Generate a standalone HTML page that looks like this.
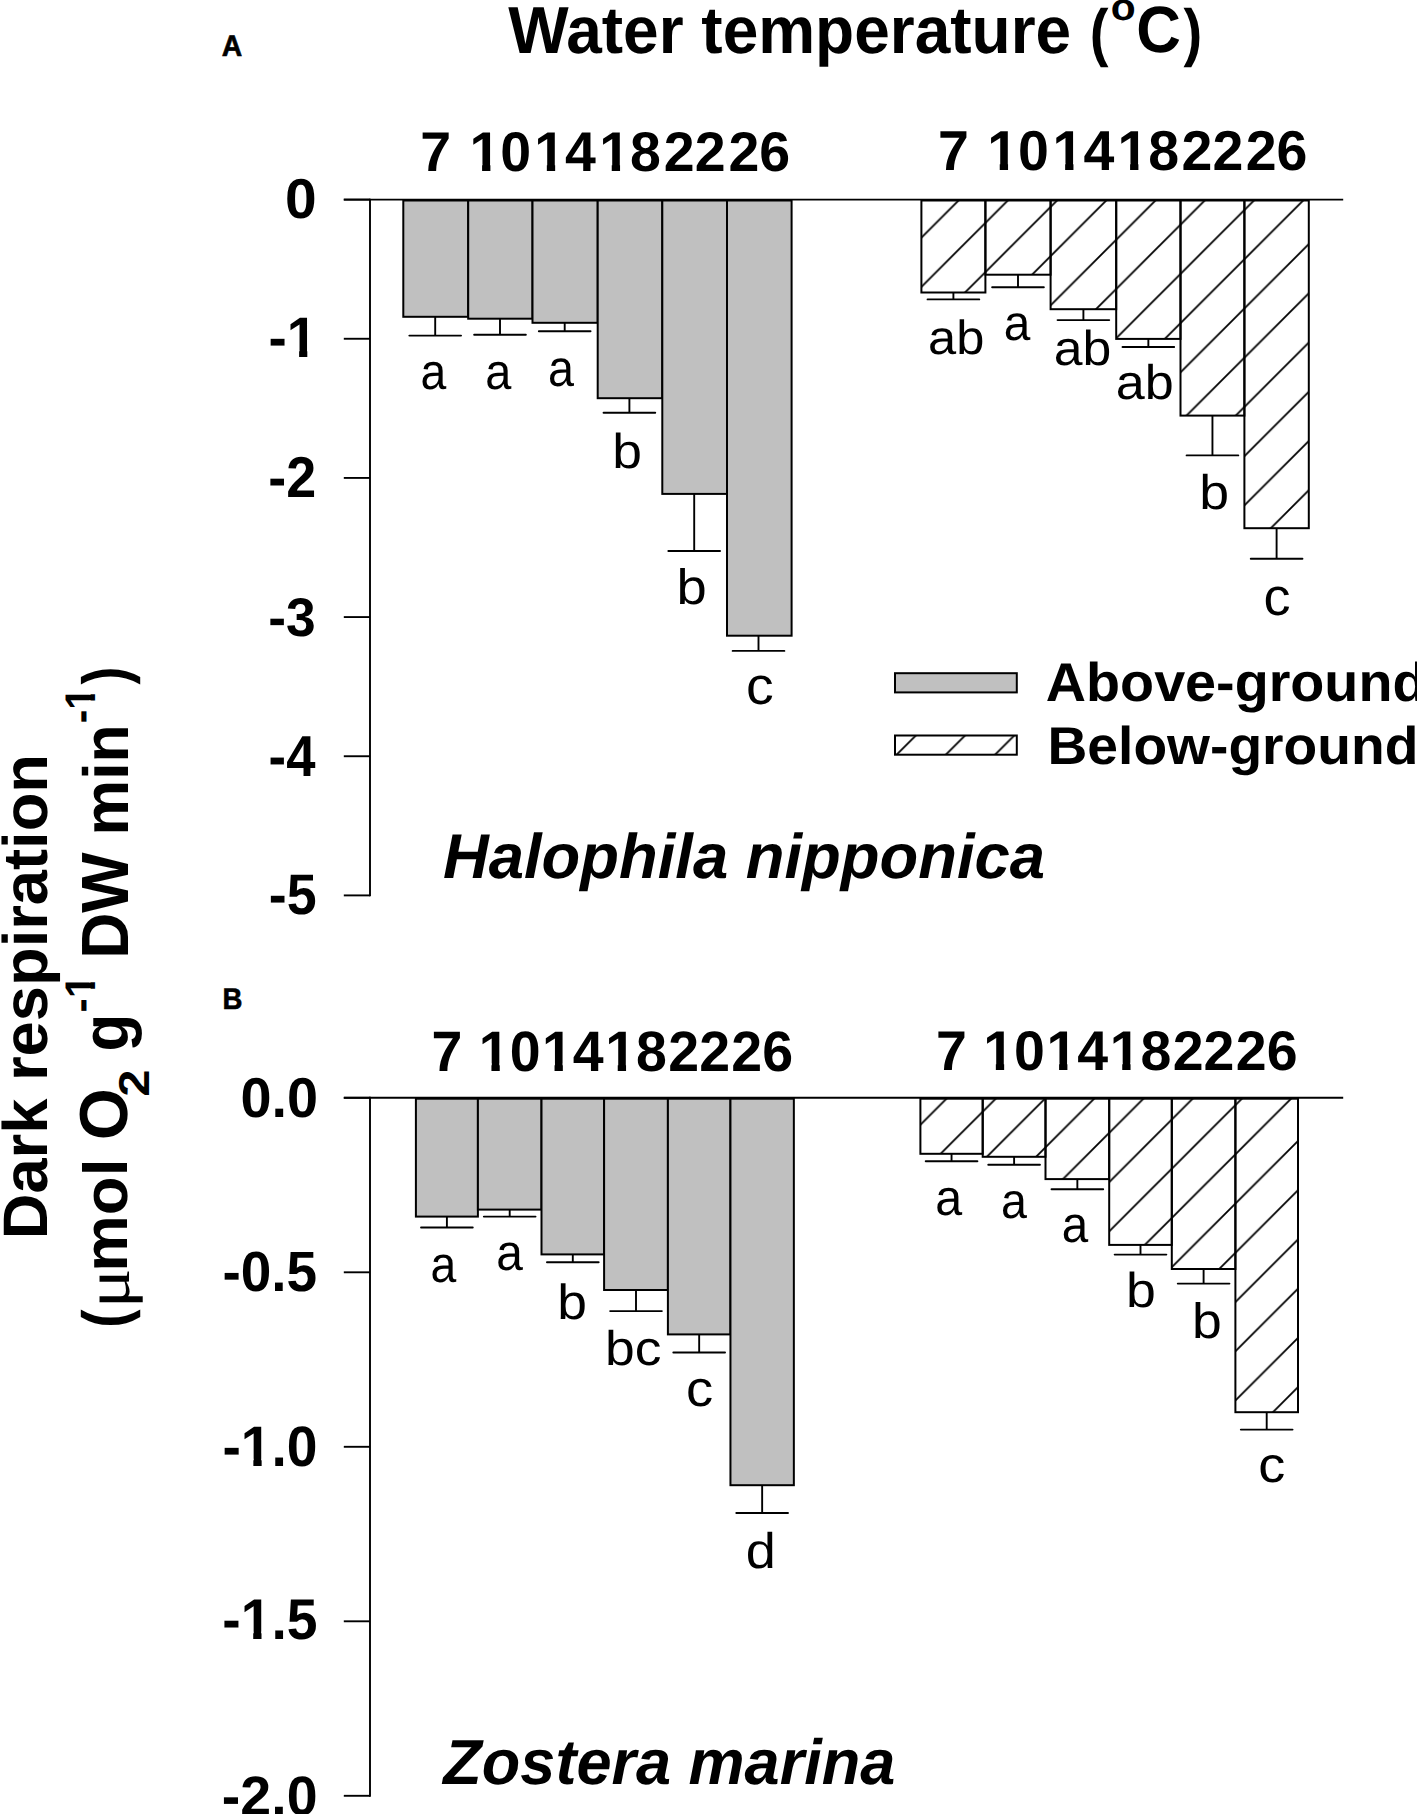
<!DOCTYPE html><html><head><meta charset="utf-8"><style>html,body{margin:0;padding:0;background:#fff;}svg{display:block;}</style></head><body><svg width="1417" height="1814" viewBox="0 0 1417 1814">
<defs>
<pattern id="hat" patternUnits="userSpaceOnUse" x="26.816" y="0" width="49.228" height="49.228"><path d="M-2,51.228 L51.228,-2 M-2,2 L2,-2 M47.228,51.228 L51.228,47.228" stroke="#000" stroke-width="1.8" fill="none"/></pattern>
</defs>
<rect width="1417" height="1814" fill="#fff"/>
<line x1="435.20" y1="316.80" x2="435.20" y2="335.60" stroke="#000" stroke-width="1.9"/>
<line x1="409.35" y1="335.60" x2="461.05" y2="335.60" stroke="#000" stroke-width="1.9" stroke-linecap="round"/>
<rect x="403.30" y="200.50" width="64.90" height="116.30" fill="#c0c0c0" stroke="#000" stroke-width="2.0"/>
<line x1="500.00" y1="318.70" x2="500.00" y2="334.70" stroke="#000" stroke-width="1.9"/>
<line x1="474.15" y1="334.70" x2="525.85" y2="334.70" stroke="#000" stroke-width="1.9" stroke-linecap="round"/>
<rect x="468.20" y="200.50" width="64.30" height="118.20" fill="#c0c0c0" stroke="#000" stroke-width="2.0"/>
<line x1="564.70" y1="322.80" x2="564.70" y2="331.30" stroke="#000" stroke-width="1.9"/>
<line x1="538.85" y1="331.30" x2="590.55" y2="331.30" stroke="#000" stroke-width="1.9" stroke-linecap="round"/>
<rect x="532.50" y="200.50" width="65.20" height="122.30" fill="#c0c0c0" stroke="#000" stroke-width="2.0"/>
<line x1="629.40" y1="398.20" x2="629.40" y2="412.80" stroke="#000" stroke-width="1.9"/>
<line x1="603.55" y1="412.80" x2="655.25" y2="412.80" stroke="#000" stroke-width="1.9" stroke-linecap="round"/>
<rect x="597.70" y="200.50" width="64.60" height="197.70" fill="#c0c0c0" stroke="#000" stroke-width="2.0"/>
<line x1="694.20" y1="493.90" x2="694.20" y2="551.00" stroke="#000" stroke-width="1.9"/>
<line x1="668.35" y1="551.00" x2="720.05" y2="551.00" stroke="#000" stroke-width="1.9" stroke-linecap="round"/>
<rect x="662.30" y="200.50" width="64.70" height="293.40" fill="#c0c0c0" stroke="#000" stroke-width="2.0"/>
<line x1="758.50" y1="635.70" x2="758.50" y2="650.90" stroke="#000" stroke-width="1.9"/>
<line x1="732.65" y1="650.90" x2="784.35" y2="650.90" stroke="#000" stroke-width="1.9" stroke-linecap="round"/>
<rect x="727.00" y="200.50" width="64.60" height="435.20" fill="#c0c0c0" stroke="#000" stroke-width="2.0"/>
<line x1="953.40" y1="292.50" x2="953.40" y2="299.40" stroke="#000" stroke-width="1.9"/>
<line x1="927.55" y1="299.40" x2="979.25" y2="299.40" stroke="#000" stroke-width="1.9" stroke-linecap="round"/>
<rect x="921.40" y="200.50" width="64.00" height="92.00" fill="url(#hat)" stroke="#000" stroke-width="2.0"/>
<line x1="1018.00" y1="274.70" x2="1018.00" y2="287.30" stroke="#000" stroke-width="1.9"/>
<line x1="992.15" y1="287.30" x2="1043.85" y2="287.30" stroke="#000" stroke-width="1.9" stroke-linecap="round"/>
<rect x="985.40" y="200.50" width="65.20" height="74.20" fill="url(#hat)" stroke="#000" stroke-width="2.0"/>
<line x1="1083.40" y1="309.20" x2="1083.40" y2="320.10" stroke="#000" stroke-width="1.9"/>
<line x1="1057.55" y1="320.10" x2="1109.25" y2="320.10" stroke="#000" stroke-width="1.9" stroke-linecap="round"/>
<rect x="1050.60" y="200.50" width="65.60" height="108.70" fill="url(#hat)" stroke="#000" stroke-width="2.0"/>
<line x1="1148.35" y1="338.90" x2="1148.35" y2="347.00" stroke="#000" stroke-width="1.9"/>
<line x1="1122.50" y1="347.00" x2="1174.20" y2="347.00" stroke="#000" stroke-width="1.9" stroke-linecap="round"/>
<rect x="1116.20" y="200.50" width="64.30" height="138.40" fill="url(#hat)" stroke="#000" stroke-width="2.0"/>
<line x1="1212.45" y1="415.60" x2="1212.45" y2="455.40" stroke="#000" stroke-width="1.9"/>
<line x1="1186.60" y1="455.40" x2="1238.30" y2="455.40" stroke="#000" stroke-width="1.9" stroke-linecap="round"/>
<rect x="1180.50" y="200.50" width="63.90" height="215.10" fill="url(#hat)" stroke="#000" stroke-width="2.0"/>
<line x1="1276.60" y1="528.20" x2="1276.60" y2="558.80" stroke="#000" stroke-width="1.9"/>
<line x1="1250.75" y1="558.80" x2="1302.45" y2="558.80" stroke="#000" stroke-width="1.9" stroke-linecap="round"/>
<rect x="1244.40" y="200.50" width="64.40" height="327.70" fill="url(#hat)" stroke="#000" stroke-width="2.0"/>
<line x1="370.0" y1="199.60" x2="370.0" y2="895.40" stroke="#000" stroke-width="1.9" stroke-linecap="square"/>
<line x1="343.8" y1="199.60" x2="1343.2" y2="199.60" stroke="#000" stroke-width="1.9"/>
<line x1="343.8" y1="199.60" x2="370.0" y2="199.60" stroke="#000" stroke-width="1.9"/>
<line x1="343.8" y1="338.76" x2="370.0" y2="338.76" stroke="#000" stroke-width="1.9"/>
<line x1="343.8" y1="477.92" x2="370.0" y2="477.92" stroke="#000" stroke-width="1.9"/>
<line x1="343.8" y1="617.08" x2="370.0" y2="617.08" stroke="#000" stroke-width="1.9"/>
<line x1="343.8" y1="756.24" x2="370.0" y2="756.24" stroke="#000" stroke-width="1.9"/>
<line x1="343.8" y1="895.40" x2="370.0" y2="895.40" stroke="#000" stroke-width="1.9"/>
<line x1="446.90" y1="1216.60" x2="446.90" y2="1227.50" stroke="#000" stroke-width="1.9"/>
<line x1="421.05" y1="1227.50" x2="472.75" y2="1227.50" stroke="#000" stroke-width="1.9" stroke-linecap="round"/>
<rect x="415.90" y="1098.70" width="62.00" height="117.90" fill="#c0c0c0" stroke="#000" stroke-width="2.0"/>
<line x1="509.70" y1="1209.60" x2="509.70" y2="1216.60" stroke="#000" stroke-width="1.9"/>
<line x1="483.85" y1="1216.60" x2="535.55" y2="1216.60" stroke="#000" stroke-width="1.9" stroke-linecap="round"/>
<rect x="477.90" y="1098.70" width="63.60" height="110.90" fill="#c0c0c0" stroke="#000" stroke-width="2.0"/>
<line x1="572.80" y1="1254.40" x2="572.80" y2="1262.30" stroke="#000" stroke-width="1.9"/>
<line x1="546.95" y1="1262.30" x2="598.65" y2="1262.30" stroke="#000" stroke-width="1.9" stroke-linecap="round"/>
<rect x="541.50" y="1098.70" width="62.60" height="155.70" fill="#c0c0c0" stroke="#000" stroke-width="2.0"/>
<line x1="636.00" y1="1290.00" x2="636.00" y2="1311.10" stroke="#000" stroke-width="1.9"/>
<line x1="610.15" y1="1311.10" x2="661.85" y2="1311.10" stroke="#000" stroke-width="1.9" stroke-linecap="round"/>
<rect x="604.10" y="1098.70" width="63.80" height="191.30" fill="#c0c0c0" stroke="#000" stroke-width="2.0"/>
<line x1="699.17" y1="1334.40" x2="699.17" y2="1352.50" stroke="#000" stroke-width="1.9"/>
<line x1="673.32" y1="1352.50" x2="725.02" y2="1352.50" stroke="#000" stroke-width="1.9" stroke-linecap="round"/>
<rect x="667.90" y="1098.70" width="62.55" height="235.70" fill="#c0c0c0" stroke="#000" stroke-width="2.0"/>
<line x1="762.15" y1="1485.20" x2="762.15" y2="1513.00" stroke="#000" stroke-width="1.9"/>
<line x1="736.30" y1="1513.00" x2="788.00" y2="1513.00" stroke="#000" stroke-width="1.9" stroke-linecap="round"/>
<rect x="730.45" y="1098.70" width="63.40" height="386.50" fill="#c0c0c0" stroke="#000" stroke-width="2.0"/>
<line x1="951.55" y1="1153.80" x2="951.55" y2="1161.30" stroke="#000" stroke-width="1.9"/>
<line x1="925.70" y1="1161.30" x2="977.40" y2="1161.30" stroke="#000" stroke-width="1.9" stroke-linecap="round"/>
<rect x="920.40" y="1098.70" width="62.30" height="55.10" fill="url(#hat)" stroke="#000" stroke-width="2.0"/>
<line x1="1014.10" y1="1156.80" x2="1014.10" y2="1164.80" stroke="#000" stroke-width="1.9"/>
<line x1="988.25" y1="1164.80" x2="1039.95" y2="1164.80" stroke="#000" stroke-width="1.9" stroke-linecap="round"/>
<rect x="982.70" y="1098.70" width="62.80" height="58.10" fill="url(#hat)" stroke="#000" stroke-width="2.0"/>
<line x1="1077.35" y1="1179.10" x2="1077.35" y2="1189.30" stroke="#000" stroke-width="1.9"/>
<line x1="1051.50" y1="1189.30" x2="1103.20" y2="1189.30" stroke="#000" stroke-width="1.9" stroke-linecap="round"/>
<rect x="1045.50" y="1098.70" width="63.70" height="80.40" fill="url(#hat)" stroke="#000" stroke-width="2.0"/>
<line x1="1140.50" y1="1244.90" x2="1140.50" y2="1254.60" stroke="#000" stroke-width="1.9"/>
<line x1="1114.65" y1="1254.60" x2="1166.35" y2="1254.60" stroke="#000" stroke-width="1.9" stroke-linecap="round"/>
<rect x="1109.20" y="1098.70" width="62.60" height="146.20" fill="url(#hat)" stroke="#000" stroke-width="2.0"/>
<line x1="1203.60" y1="1269.00" x2="1203.60" y2="1283.60" stroke="#000" stroke-width="1.9"/>
<line x1="1177.75" y1="1283.60" x2="1229.45" y2="1283.60" stroke="#000" stroke-width="1.9" stroke-linecap="round"/>
<rect x="1171.80" y="1098.70" width="63.60" height="170.30" fill="url(#hat)" stroke="#000" stroke-width="2.0"/>
<line x1="1266.70" y1="1412.20" x2="1266.70" y2="1429.60" stroke="#000" stroke-width="1.9"/>
<line x1="1240.85" y1="1429.60" x2="1292.55" y2="1429.60" stroke="#000" stroke-width="1.9" stroke-linecap="round"/>
<rect x="1235.40" y="1098.70" width="62.60" height="313.50" fill="url(#hat)" stroke="#000" stroke-width="2.0"/>
<line x1="370.0" y1="1097.80" x2="370.0" y2="1795.80" stroke="#000" stroke-width="1.9" stroke-linecap="square"/>
<line x1="343.8" y1="1097.80" x2="1343.2" y2="1097.80" stroke="#000" stroke-width="1.9"/>
<line x1="343.8" y1="1097.80" x2="370.0" y2="1097.80" stroke="#000" stroke-width="1.9"/>
<line x1="343.8" y1="1272.30" x2="370.0" y2="1272.30" stroke="#000" stroke-width="1.9"/>
<line x1="343.8" y1="1446.80" x2="370.0" y2="1446.80" stroke="#000" stroke-width="1.9"/>
<line x1="343.8" y1="1621.30" x2="370.0" y2="1621.30" stroke="#000" stroke-width="1.9"/>
<line x1="343.8" y1="1795.80" x2="370.0" y2="1795.80" stroke="#000" stroke-width="1.9"/>
<rect x="895" y="673.2" width="121.8" height="19.2" fill="#c0c0c0" stroke="#000" stroke-width="2.0"/>
<rect x="895" y="735.5" width="121.8" height="19.2" fill="url(#hat)" stroke="#000" stroke-width="2.0"/>
<g font-family="'Liberation Sans', sans-serif" fill="#000" text-rendering="geometricPrecision">
<g transform="matrix(1.02569,0,0,1.01211,-8.934,-3.145)"><text x="317.50" y="218.60" text-anchor="end" font-weight="bold" font-size="55.5">0</text></g>
<g transform="matrix(0.98608,0,0,1.02873,4.036,-10.782)"><text x="317.50" y="357.76" text-anchor="end" font-weight="bold" font-size="55.5" clip-path="url(#c1_1)">-1</text></g>
<g transform="matrix(0.97118,0,0,1.03572,7.766,-17.551)"><text x="317.50" y="496.92" text-anchor="end" font-weight="bold" font-size="55.5">-2</text></g>
<g transform="matrix(0.96221,0,0,0.97811,10.250,13.663)"><text x="317.50" y="636.08" text-anchor="end" font-weight="bold" font-size="55.5">-3</text></g>
<g transform="matrix(0.94808,0,0,1.04188,14.405,-31.867)"><text x="317.50" y="775.24" text-anchor="end" font-weight="bold" font-size="55.5">-4</text></g>
<g transform="matrix(0.96908,0,0,1.02965,8.932,-27.465)"><text x="317.50" y="914.40" text-anchor="end" font-weight="bold" font-size="55.5">-5</text></g>
<g transform="matrix(0.91697,0,0,1.00220,34.921,-1.029)"><text x="434.65" y="388.90" text-anchor="middle" font-size="50.5">a</text></g>
<g transform="matrix(0.92881,0,0,1.00277,34.291,-1.254)"><text x="499.70" y="388.90" text-anchor="middle" font-size="50.5">a</text></g>
<g transform="matrix(0.92550,0,0,1.01817,40.679,-6.501)"><text x="562.15" y="385.80" text-anchor="middle" font-size="50.5">a</text></g>
<g transform="matrix(1.05723,0,0,0.96861,-36.636,14.687)"><text x="627.75" y="468.30" text-anchor="middle" font-size="50.5">b</text></g>
<g transform="matrix(1.07705,0,0,0.98300,-54.053,9.906)"><text x="692.40" y="604.50" text-anchor="middle" font-size="50.5">b</text></g>
<g transform="matrix(1.09830,0,0,1.05228,-75.022,-36.326)"><text x="760.25" y="703.80" text-anchor="middle" font-size="50.5">c</text></g>
<g transform="matrix(1.00177,0,0,0.95135,-1.731,16.869)"><text x="956.20" y="354.50" text-anchor="middle" font-size="50.5">ab</text></g>
<g transform="matrix(0.94628,0,0,0.98528,53.622,4.617)"><text x="1018.05" y="340.50" text-anchor="middle" font-size="50.5">a</text></g>
<g transform="matrix(1.02481,0,0,0.96872,-27.161,11.813)"><text x="1082.75" y="365.10" text-anchor="middle" font-size="50.5">ab</text></g>
<g transform="matrix(1.03259,0,0,0.96393,-37.232,14.516)"><text x="1144.65" y="399.00" text-anchor="middle" font-size="50.5">ab</text></g>
<g transform="matrix(1.06247,0,0,0.96660,-76.304,16.912)"><text x="1214.55" y="508.60" text-anchor="middle" font-size="50.5">b</text></g>
<g transform="matrix(1.07197,0,0,1.05040,-92.170,-30.617)"><text x="1277.35" y="615.10" text-anchor="middle" font-size="50.5">c</text></g>
<g transform="matrix(1.00614,0,0,1.01131,-1.344,-12.056)"><text x="317.50" y="1116.80" text-anchor="end" font-weight="bold" font-size="55.5">0.0</text></g>
<g transform="matrix(0.99023,0,0,1.02172,2.745,-28.704)"><text x="317.50" y="1291.30" text-anchor="end" font-weight="bold" font-size="55.5">-0.5</text></g>
<g transform="matrix(0.99499,0,0,1.02675,1.679,-38.713)"><text x="317.50" y="1465.80" text-anchor="end" font-weight="bold" font-size="55.5" clip-path="url(#c1_2)">-1.0</text></g>
<g transform="matrix(0.99587,0,0,1.03445,1.315,-57.847)"><text x="317.50" y="1640.30" text-anchor="end" font-weight="bold" font-size="55.5" clip-path="url(#c1_3)">-1.5</text></g>
<text x="317.50" y="1814.80" text-anchor="end" font-weight="bold" font-size="55.5">-2.0</text>
<g transform="matrix(0.91653,0,0,1.01500,35.956,-18.796)"><text x="444.65" y="1281.10" text-anchor="middle" font-size="50.5">a</text></g>
<g transform="matrix(0.94832,0,0,1.01515,25.496,-19.531)"><text x="510.40" y="1270.20" text-anchor="middle" font-size="50.5">a</text></g>
<g transform="matrix(1.05755,0,0,0.97745,-33.664,30.044)"><text x="572.85" y="1318.40" text-anchor="middle" font-size="50.5">b</text></g>
<g transform="matrix(1.05836,0,0,0.96473,-38.020,48.254)"><text x="634.25" y="1365.00" text-anchor="middle" font-size="50.5">bc</text></g>
<g transform="matrix(1.07758,0,0,1.00589,-54.738,-7.883)"><text x="700.00" y="1406.10" text-anchor="middle" font-size="50.5">c</text></g>
<g transform="matrix(1.07171,0,0,0.98951,-53.852,16.211)"><text x="760.25" y="1567.90" text-anchor="middle" font-size="50.5">d</text></g>
<g transform="matrix(0.95772,0,0,1.00716,39.053,-8.658)"><text x="949.70" y="1215.30" text-anchor="middle" font-size="50.5">a</text></g>
<g transform="matrix(0.92309,0,0,0.99724,77.145,3.497)"><text x="1014.75" y="1218.00" text-anchor="middle" font-size="50.5">a</text></g>
<g transform="matrix(0.94151,0,0,1.01543,61.807,-19.572)"><text x="1076.20" y="1242.50" text-anchor="middle" font-size="50.5">a</text></g>
<g transform="matrix(1.06219,0,0,0.96872,-71.767,41.279)"><text x="1141.75" y="1307.10" text-anchor="middle" font-size="50.5">b</text></g>
<g transform="matrix(1.06028,0,0,0.98268,-73.344,22.880)"><text x="1207.50" y="1338.20" text-anchor="middle" font-size="50.5">b</text></g>
<g transform="matrix(1.06996,0,0,0.99681,-89.340,4.639)"><text x="1272.05" y="1481.60" text-anchor="middle" font-size="50.5">c</text></g>
<g transform="matrix(0.99970,0,0,1.03809,1.831,-2.674)"><text x="506.5" y="53.3" font-weight="bold" font-size="64">Water temperature</text></g>
<g transform="matrix(0.87990,0,0,0.99847,130.589,0.449)"><text x="1090" y="53.3" font-weight="bold" font-size="64">(</text></g>
<g transform="matrix(1.01931,0,0,0.95151,-21.659,0.482)"><text x="1111" y="21" font-weight="bold" font-size="40">o</text></g>
<g transform="matrix(0.96553,0,0,1.02174,39.412,-1.974)"><text x="1136" y="53.3" font-weight="bold" font-size="64">C</text></g>
<g transform="matrix(0.87782,0,0,0.99847,146.719,0.449)"><text x="1181" y="53.3" font-weight="bold" font-size="64">)</text></g>
<g transform="matrix(0.97874,0,0,1.01993,4.935,-0.982)"><text x="221.5" y="56" font-weight="bold" font-size="29" stroke="#000" stroke-width="0.6">A</text></g>
<g transform="matrix(0.95048,0,0,1.02909,11.884,-29.317)"><text x="221.5" y="1008.6" font-weight="bold" font-size="29" stroke="#000" stroke-width="0.6">B</text></g>
<g transform="matrix(1.00363,0,0,0.98101,-5.449,12.720)"><text x="1047.5" y="701.6" font-weight="bold" font-size="55.5">Above-ground</text></g>
<g transform="matrix(0.99446,0,0,0.95917,5.791,31.499)"><text x="1047.5" y="764" font-weight="bold" font-size="55.5">Below-ground</text></g>
<g transform="matrix(0.99042,0,0,0.98819,6.135,9.488)"><text x="441" y="879.2" font-weight="bold" font-style="italic" font-size="64">Halophila nipponica</text></g>
<g transform="matrix(0.98481,0,0,0.99573,11.017,7.715)"><text x="439" y="1784.4" font-weight="bold" font-style="italic" font-size="64">Zostera marina</text></g>
<g transform="matrix(0.98241,0,0,0.98862,0.563,11.591)"><g transform="translate(47.3,996.4) rotate(-90)"><text x="0" y="0" text-anchor="middle" font-weight="bold" font-size="64">Dark respiration</text></g></g>
<g transform="matrix(0.99579,0,0,0.86096,0.357,184.438)"><g transform="translate(127.3,1317.20) rotate(-90)"><text x="0" y="0" text-anchor="middle" font-weight="bold" font-size="64">(</text></g></g>
<g transform="matrix(1.00387,0,0,1.15988,0.747,-204.227)"><g transform="translate(127.3,1286.85) rotate(-90)"><text x="0" y="0" text-anchor="middle" font-family="'Liberation Serif', serif" font-size="64">μ</text></g></g>
<g transform="matrix(0.97036,0,0,0.99342,2.994,7.806)"><g transform="translate(127.3,1215.35) rotate(-90)"><text x="0" y="0" text-anchor="middle" font-weight="bold" font-size="64">mol</text></g></g>
<g transform="matrix(1.06172,0,0,1.04804,-7.705,-53.765)"><g transform="translate(127.3,1114.30) rotate(-90)"><text x="0" y="0" text-anchor="middle" font-weight="bold" font-size="64">O</text></g></g>
<g transform="matrix(1.02656,0,0,1.16618,-4.033,-180.273)"><g transform="translate(148.8,1083.30) rotate(-90)"><text x="0" y="0" text-anchor="middle" font-weight="bold" font-size="42">2</text></g></g>
<g transform="matrix(1.02754,0,0,0.96576,-2.883,34.644)"><g transform="translate(127.3,1033.30) rotate(-90)"><text x="0" y="0" text-anchor="middle" font-weight="bold" font-size="64">g</text></g></g>
<g transform="matrix(1.02072,0,0,1.01037,-2.142,-13.216)"><g transform="translate(95.3,996.45) rotate(-90)"><text x="0.00" y="0.00" text-anchor="middle" font-weight="bold" font-size="42" clip-path="url(#c1_4)">-1</text></g></g>
<g transform="matrix(1.04435,0,0,0.99683,-5.433,4.984)"><g transform="translate(127.3,903.50) rotate(-90)"><text x="0" y="0" text-anchor="middle" font-weight="bold" font-size="64">DW</text></g></g>
<g transform="matrix(0.99679,0,0,0.97834,0.908,17.196)"><g transform="translate(127.3,779.55) rotate(-90)"><text x="0" y="0" text-anchor="middle" font-weight="bold" font-size="64">min</text></g></g>
<g transform="matrix(1.02072,0,0,0.96975,-2.142,18.626)"><g transform="translate(95.3,707.90) rotate(-90)"><text x="0.00" y="0.00" text-anchor="middle" font-weight="bold" font-size="42" clip-path="url(#c1_5)">-1</text></g></g>
<g transform="matrix(0.99366,0,0,0.83493,1.004,110.371)"><g transform="translate(127.3,676.90) rotate(-90)"><text x="0" y="0" text-anchor="middle" font-weight="bold" font-size="64">)</text></g></g>
<g transform="matrix(1,0,0,1.00776,0,-1.556)"><text x="435.75" y="171.40" text-anchor="middle" font-weight="bold" font-size="55.5">7</text></g>
<g transform="matrix(1,0,0,1.00776,0,-1.556)"><text x="500.35" y="171.40" text-anchor="middle" font-weight="bold" font-size="55.5" clip-path="url(#c1_6)">10</text></g>
<g transform="matrix(1,0,0,1.00776,0,-1.556)"><text x="565.10" y="171.40" text-anchor="middle" font-weight="bold" font-size="55.5" clip-path="url(#c1_7)">14</text></g>
<g transform="matrix(1,0,0,1.00776,0,-1.556)"><text x="630.00" y="171.40" text-anchor="middle" font-weight="bold" font-size="55.5" clip-path="url(#c1_8)">18</text></g>
<g transform="matrix(1,0,0,1.00776,0,-1.556)"><text x="694.65" y="171.40" text-anchor="middle" font-weight="bold" font-size="55.5">22</text></g>
<g transform="matrix(1,0,0,1.00776,0,-1.556)"><text x="759.30" y="171.40" text-anchor="middle" font-weight="bold" font-size="55.5">26</text></g>
<g transform="matrix(1,0,0,1.01277,0,-3.013)"><text x="953.40" y="171.20" text-anchor="middle" font-weight="bold" font-size="55.5">7</text></g>
<g transform="matrix(1,0,0,1.01277,0,-3.013)"><text x="1018.00" y="171.20" text-anchor="middle" font-weight="bold" font-size="55.5" clip-path="url(#c1_9)">10</text></g>
<g transform="matrix(1,0,0,1.01277,0,-3.013)"><text x="1083.40" y="171.20" text-anchor="middle" font-weight="bold" font-size="55.5" clip-path="url(#c1_10)">14</text></g>
<g transform="matrix(1,0,0,1.01277,0,-3.013)"><text x="1148.35" y="171.20" text-anchor="middle" font-weight="bold" font-size="55.5" clip-path="url(#c1_11)">18</text></g>
<g transform="matrix(1,0,0,1.01277,0,-3.013)"><text x="1212.45" y="171.20" text-anchor="middle" font-weight="bold" font-size="55.5">22</text></g>
<g transform="matrix(1,0,0,1.01277,0,-3.013)"><text x="1276.60" y="171.20" text-anchor="middle" font-weight="bold" font-size="55.5">26</text></g>
<g transform="matrix(1,0,0,1.02544,0,-27.687)"><text x="446.90" y="1071.00" text-anchor="middle" font-weight="bold" font-size="55.5">7</text></g>
<g transform="matrix(1,0,0,1.02544,0,-27.687)"><text x="509.70" y="1071.00" text-anchor="middle" font-weight="bold" font-size="55.5" clip-path="url(#c1_12)">10</text></g>
<g transform="matrix(1,0,0,1.02544,0,-27.687)"><text x="572.80" y="1071.00" text-anchor="middle" font-weight="bold" font-size="55.5" clip-path="url(#c1_13)">14</text></g>
<g transform="matrix(1,0,0,1.02544,0,-27.687)"><text x="636.00" y="1071.00" text-anchor="middle" font-weight="bold" font-size="55.5" clip-path="url(#c1_14)">18</text></g>
<g transform="matrix(1,0,0,1.02544,0,-27.687)"><text x="699.17" y="1071.00" text-anchor="middle" font-weight="bold" font-size="55.5">22</text></g>
<g transform="matrix(1,0,0,1.02544,0,-27.687)"><text x="762.15" y="1071.00" text-anchor="middle" font-weight="bold" font-size="55.5">26</text></g>
<g transform="matrix(1,0,0,1.00787,0,-8.644)"><text x="951.55" y="1070.40" text-anchor="middle" font-weight="bold" font-size="55.5">7</text></g>
<g transform="matrix(1,0,0,1.00787,0,-8.644)"><text x="1014.10" y="1070.40" text-anchor="middle" font-weight="bold" font-size="55.5" clip-path="url(#c1_15)">10</text></g>
<g transform="matrix(1,0,0,1.00787,0,-8.644)"><text x="1077.35" y="1070.40" text-anchor="middle" font-weight="bold" font-size="55.5" clip-path="url(#c1_16)">14</text></g>
<g transform="matrix(1,0,0,1.00787,0,-8.644)"><text x="1140.50" y="1070.40" text-anchor="middle" font-weight="bold" font-size="55.5" clip-path="url(#c1_17)">18</text></g>
<g transform="matrix(1,0,0,1.00787,0,-8.644)"><text x="1203.60" y="1070.40" text-anchor="middle" font-weight="bold" font-size="55.5">22</text></g>
<g transform="matrix(1,0,0,1.00787,0,-8.644)"><text x="1266.70" y="1070.40" text-anchor="middle" font-weight="bold" font-size="55.5">26</text></g>
</g>
<defs><clipPath id="c1_1" clipPathUnits="userSpaceOnUse"><path d="M-5000,-5000H7000V7000H-5000ZM288.34,350.50H299.24V359.26H288.34ZM307.55,350.50H317.71V359.26H307.55Z" clip-rule="evenodd"/></clipPath><clipPath id="c1_2" clipPathUnits="userSpaceOnUse"><path d="M-5000,-5000H7000V7000H-5000ZM242.06,1458.54H252.95V1467.30H242.06ZM261.27,1458.54H271.43V1467.30H261.27Z" clip-rule="evenodd"/></clipPath><clipPath id="c1_3" clipPathUnits="userSpaceOnUse"><path d="M-5000,-5000H7000V7000H-5000ZM242.06,1633.04H252.95V1641.80H242.06ZM261.27,1633.04H271.43V1641.80H261.27Z" clip-rule="evenodd"/></clipPath><clipPath id="c1_4" clipPathUnits="userSpaceOnUse"><path d="M-5000,-5000H7000V7000H-5000ZM-3.64,-5.89H4.77V1.50H-3.64ZM11.23,-5.89H19.08V1.50H11.23Z" clip-rule="evenodd"/></clipPath><clipPath id="c1_5" clipPathUnits="userSpaceOnUse"><path d="M-5000,-5000H7000V7000H-5000ZM-3.64,-5.89H4.77V1.50H-3.64ZM11.23,-5.89H19.08V1.50H11.23Z" clip-rule="evenodd"/></clipPath><clipPath id="c1_6" clipPathUnits="userSpaceOnUse"><path d="M-5000,-5000H7000V7000H-5000ZM471.19,164.14H482.09V172.90H471.19ZM490.40,164.14H500.56V172.90H490.40Z" clip-rule="evenodd"/></clipPath><clipPath id="c1_7" clipPathUnits="userSpaceOnUse"><path d="M-5000,-5000H7000V7000H-5000ZM535.94,164.14H546.84V172.90H535.94ZM555.15,164.14H565.31V172.90H555.15Z" clip-rule="evenodd"/></clipPath><clipPath id="c1_8" clipPathUnits="userSpaceOnUse"><path d="M-5000,-5000H7000V7000H-5000ZM600.84,164.14H611.74V172.90H600.84ZM620.05,164.14H630.21V172.90H620.05Z" clip-rule="evenodd"/></clipPath><clipPath id="c1_9" clipPathUnits="userSpaceOnUse"><path d="M-5000,-5000H7000V7000H-5000ZM988.84,163.94H999.74V172.70H988.84ZM1008.05,163.94H1018.21V172.70H1008.05Z" clip-rule="evenodd"/></clipPath><clipPath id="c1_10" clipPathUnits="userSpaceOnUse"><path d="M-5000,-5000H7000V7000H-5000ZM1054.24,163.94H1065.14V172.70H1054.24ZM1073.45,163.94H1083.61V172.70H1073.45Z" clip-rule="evenodd"/></clipPath><clipPath id="c1_11" clipPathUnits="userSpaceOnUse"><path d="M-5000,-5000H7000V7000H-5000ZM1119.19,163.94H1130.09V172.70H1119.19ZM1138.40,163.94H1148.56V172.70H1138.40Z" clip-rule="evenodd"/></clipPath><clipPath id="c1_12" clipPathUnits="userSpaceOnUse"><path d="M-5000,-5000H7000V7000H-5000ZM480.54,1063.74H491.44V1072.50H480.54ZM499.75,1063.74H509.91V1072.50H499.75Z" clip-rule="evenodd"/></clipPath><clipPath id="c1_13" clipPathUnits="userSpaceOnUse"><path d="M-5000,-5000H7000V7000H-5000ZM543.64,1063.74H554.54V1072.50H543.64ZM562.85,1063.74H573.01V1072.50H562.85Z" clip-rule="evenodd"/></clipPath><clipPath id="c1_14" clipPathUnits="userSpaceOnUse"><path d="M-5000,-5000H7000V7000H-5000ZM606.84,1063.74H617.74V1072.50H606.84ZM626.05,1063.74H636.21V1072.50H626.05Z" clip-rule="evenodd"/></clipPath><clipPath id="c1_15" clipPathUnits="userSpaceOnUse"><path d="M-5000,-5000H7000V7000H-5000ZM984.94,1063.14H995.84V1071.90H984.94ZM1004.15,1063.14H1014.31V1071.90H1004.15Z" clip-rule="evenodd"/></clipPath><clipPath id="c1_16" clipPathUnits="userSpaceOnUse"><path d="M-5000,-5000H7000V7000H-5000ZM1048.19,1063.14H1059.09V1071.90H1048.19ZM1067.40,1063.14H1077.56V1071.90H1067.40Z" clip-rule="evenodd"/></clipPath><clipPath id="c1_17" clipPathUnits="userSpaceOnUse"><path d="M-5000,-5000H7000V7000H-5000ZM1111.34,1063.14H1122.24V1071.90H1111.34ZM1130.55,1063.14H1140.71V1071.90H1130.55Z" clip-rule="evenodd"/></clipPath></defs>
</svg></body></html>
